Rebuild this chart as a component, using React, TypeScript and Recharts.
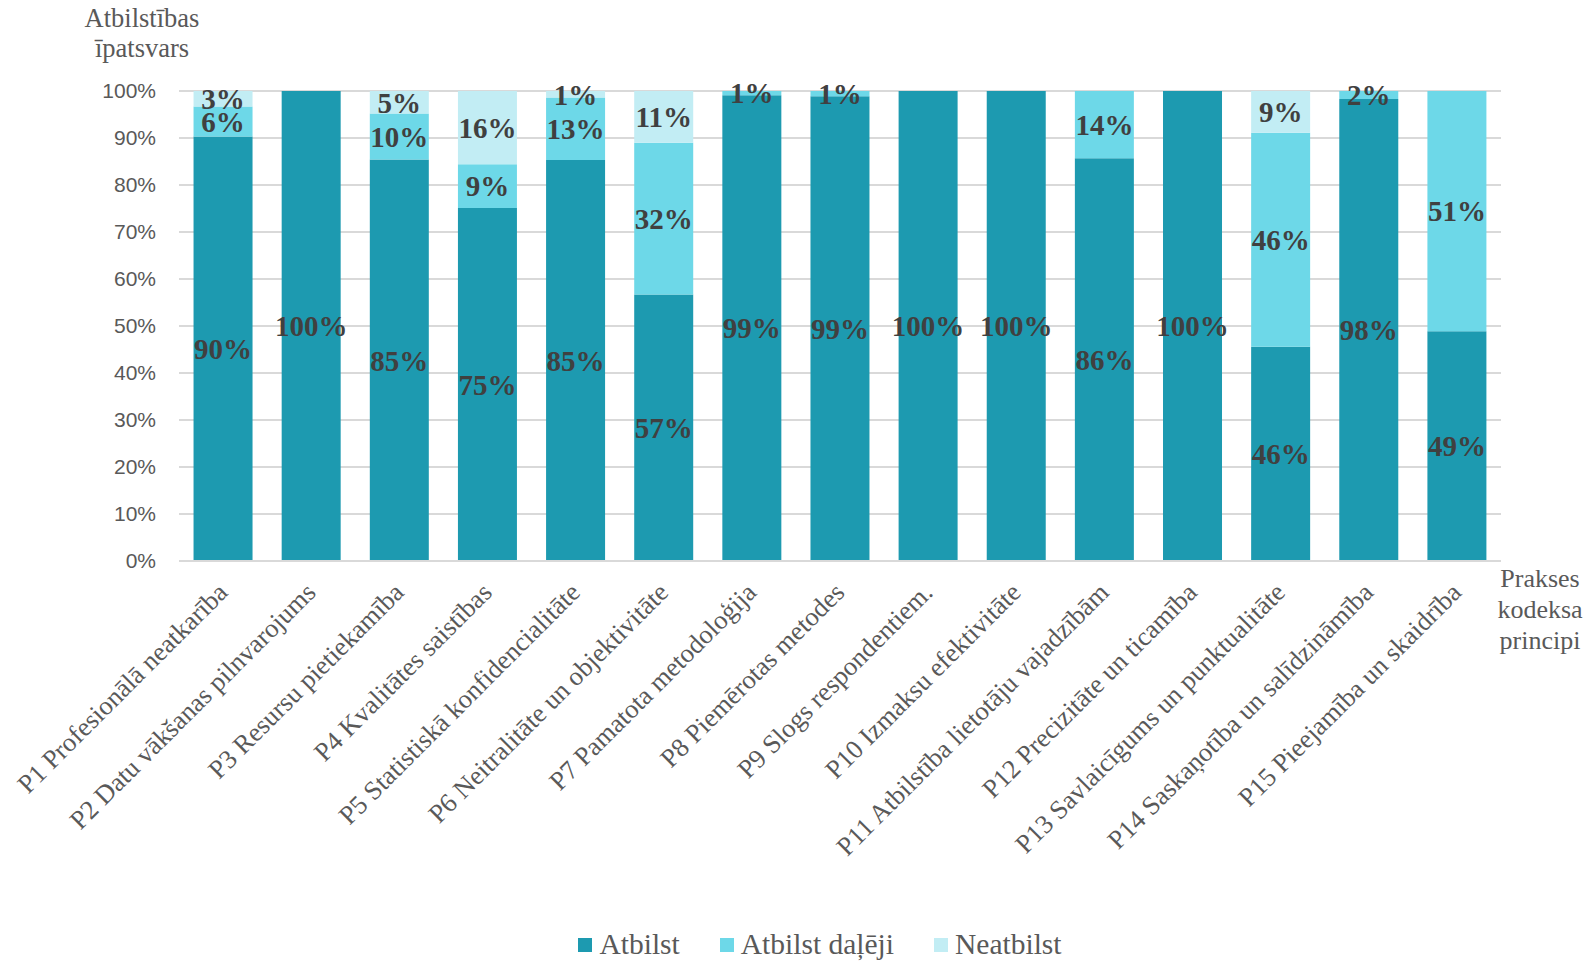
import React from "react";
import { BarChart, Bar, XAxis, YAxis, CartesianGrid, LabelList } from "recharts";

const categories = [
  "P1 Profesionālā neatkarība",
  "P2 Datu vākšanas pilnvarojums",
  "P3 Resursu pietiekamība",
  "P4 Kvalitātes saistības",
  "P5 Statistiskā konfidencialitāte",
  "P6 Neitralitāte un objektivitāte",
  "P7 Pamatota metodoloģija",
  "P8 Piemērotas metodes",
  "P9 Slogs respondentiem.",
  "P10 Izmaksu efektivitāte",
  "P11 Atbilstība lietotāju vajadzībām",
  "P12 Precizitāte un ticamība",
  "P13 Savlaicīgums un punktualitāte",
  "P14 Saskaņotība un salīdzināmība",
  "P15 Pieejamība un skaidrība",
];
const atbilst = [90.3, 100, 85.4, 75.1, 85.3, 56.7, 99.1, 98.9, 100, 100, 85.7, 100, 45.6, 98.3, 48.9];
const dalji = [6.4, 0, 9.8, 9.3, 13.3, 32.3, 0.9, 1.1, 0, 0, 14.3, 0, 45.5, 1.7, 51.1];
const neatbilst = [3.3, 0, 4.8, 15.6, 1.4, 11.0, 0, 0, 0, 0, 0, 0, 8.9, 0, 0];
const yTicks = [0, 10, 20, 30, 40, 50, 60, 70, 80, 90, 100];
const seriesNames = ["Atbilst", "Atbilst daļēji", "Neatbilst"];
const colors = ["#1D9AB0", "#6DD8E8", "#C2EDF4"];

const data = categories.map((c, i) => ({
  name: c,
  a: atbilst[i],
  b: dalji[i],
  c: neatbilst[i],
}));

const SERIF = "'Liberation Serif', 'Times New Roman', serif";
const SANS = "'Liberation Sans', Arial, sans-serif";

const fmt = (v: any) => {
  const n = Number(v);
  if (!n) return "";
  return `${Math.round(n)}%`;
};

const XTick = (props: any) => {
  const { x, y, payload } = props;
  const ax = x + 6;
  const ay = y + 33;
  return (
    <text
      x={ax}
      y={ay}
      transform={`rotate(-45, ${ax}, ${ay})`}
      textAnchor="end"
      fontSize={26.5}
      fill="#595959"
      fontFamily={SERIF}
    >
      {payload.value}
    </text>
  );
};

const labelStyle = {
  fill: "#404040",
  fontSize: 29,
  fontWeight: 700,
  fontFamily: SERIF,
};

export default function App() {
  return (
    <div style={{ position: "absolute", left: 0, top: 0, width: 1592, height: 963, background: "#fff" }}>
      <BarChart
        width={1592}
        height={963}
        data={data}
        margin={{ top: 91, right: 91, bottom: 0, left: 119 }}
        barCategoryGap="16.5%"
      >
        <CartesianGrid vertical={false} stroke="#D9D9D9" strokeWidth={2} />
        <XAxis
          dataKey="name"
          height={402}
          interval={0}
          tick={<XTick />}
          tickLine={false}
          tickSize={0}
          tickMargin={0}
          axisLine={{ stroke: "#D9D9D9", strokeWidth: 2 }}
        />
        <YAxis
          width={60}
          domain={[0, 100]}
          ticks={yTicks}
          tickFormatter={(v: number) => `${v}%`}
          axisLine={false}
          tickLine={false}
          tickSize={0}
          tickMargin={23}
          tick={{ fill: "#595959", fontSize: 21, fontFamily: SANS }}
        />
        <Bar dataKey="a" stackId="s" fill={colors[0]} isAnimationActive={false}>
          <LabelList dataKey="a" position="center" formatter={fmt} style={labelStyle} />
        </Bar>
        <Bar dataKey="b" stackId="s" fill={colors[1]} isAnimationActive={false}>
          <LabelList dataKey="b" position="center" formatter={fmt} style={labelStyle} />
        </Bar>
        <Bar dataKey="c" stackId="s" fill={colors[2]} isAnimationActive={false}>
          <LabelList dataKey="c" position="center" formatter={fmt} style={labelStyle} />
        </Bar>
      </BarChart>
      <div
        style={{
          position: "absolute",
          left: 78,
          top: 3,
          width: 128,
          textAlign: "center",
          fontFamily: SERIF,
          fontSize: 26.5,
          lineHeight: "30px",
          color: "#595959",
        }}
      >
        Atbilstības
        <br />
        īpatsvars
      </div>
      <div
        style={{
          position: "absolute",
          left: 1488,
          top: 563,
          width: 104,
          textAlign: "center",
          fontFamily: SERIF,
          fontSize: 26,
          lineHeight: "31px",
          color: "#595959",
        }}
      >
        Prakses
        <br />
        kodeksa
        <br />
        principi
      </div>
      <div
        style={{
          position: "absolute",
          left: 24,
          top: 928,
          width: 1592,
          display: "flex",
          justifyContent: "center",
          alignItems: "center",
          gap: 40,
          fontFamily: SERIF,
          fontSize: 29.5,
          color: "#595959",
        }}
      >
        {seriesNames.map((n, i) => (
          <div key={n} style={{ display: "flex", alignItems: "center", gap: 7 }}>
            <span style={{ display: "inline-block", width: 14, height: 14, background: colors[i] }} />
            <span>{n}</span>
          </div>
        ))}
      </div>
    </div>
  );
}
